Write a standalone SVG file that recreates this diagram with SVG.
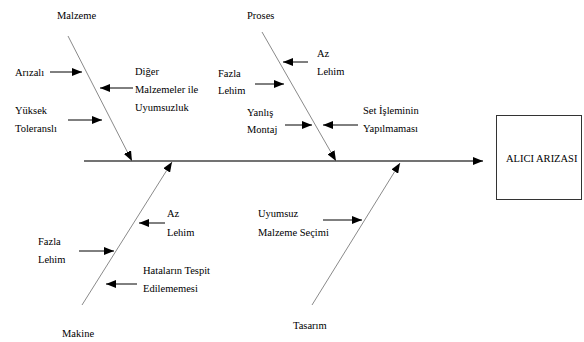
<svg xmlns="http://www.w3.org/2000/svg" width="584" height="342" viewBox="0 0 584 342">
<style>
text{font-family:"Liberation Serif",serif;font-size:10.5px;fill:#000}
.arr{stroke:#000;stroke-width:1;fill:none;marker-end:url(#ah)}
.bone{stroke:#8a8a8a;stroke-width:1;fill:none;marker-end:url(#ah)}
.spine{stroke:#444;stroke-width:1.5;fill:none;marker-end:url(#ah)}
</style>
<defs>
<marker id="ah" markerUnits="userSpaceOnUse" markerWidth="10" markerHeight="8" refX="10" refY="4" orient="auto">
<path d="M0,0 L10,4 L0,8 z" fill="#000"/>
</marker>
</defs>
<rect width="584" height="342" fill="#fff"/>
<g id="connectors">
<line class="spine" x1="84" y1="161" x2="483" y2="161"/>
<line class="bone" x1="68" y1="36" x2="132" y2="161"/>
<line class="bone" x1="262" y1="32" x2="336" y2="161"/>
<line class="bone" x1="82" y1="305" x2="172" y2="162"/>
<line class="bone" x1="312" y1="305" x2="400" y2="163"/>
<line class="arr" x1="50" y1="72" x2="82" y2="72"/>
<line class="arr" x1="133" y1="88" x2="100" y2="88"/>
<line class="arr" x1="68" y1="120" x2="102" y2="120"/>
<line class="arr" x1="308" y1="62" x2="283" y2="62"/>
<line class="arr" x1="255" y1="84" x2="284" y2="84"/>
<line class="arr" x1="285" y1="125" x2="312" y2="125"/>
<line class="arr" x1="358" y1="125" x2="323" y2="125"/>
<line class="arr" x1="165" y1="223" x2="139" y2="223"/>
<line class="arr" x1="79" y1="251" x2="114" y2="251"/>
<line class="arr" x1="137" y1="284" x2="106" y2="284"/>
<line class="arr" x1="323" y1="220" x2="362" y2="220"/>
</g>
<g id="result">
<rect x="496.5" y="115.5" width="85" height="84" fill="#fff" stroke="#333" stroke-width="1"/>
<text x="506" y="162">ALICI ARIZASI</text>
</g>
<g id="malzeme"><text x="57" y="19">Malzeme</text></g>
<g id="proses"><text x="247" y="19">Proses</text></g>
<g id="makine"><text x="62" y="337">Makine</text></g>
<g id="tasarim"><text x="293" y="329">Tasarım</text></g>
<g id="arizali"><text x="15" y="76">Arızalı</text></g>
<g id="diger"><text x="135" y="75">Diğer</text><text x="135" y="93">Malzemeler ile</text><text x="135" y="111">Uyumsuzluk</text></g>
<g id="yuksek"><text x="15" y="114">Yüksek</text><text x="15" y="132">Toleranslı</text></g>
<g id="az-proses"><text x="317" y="57">Az</text><text x="317" y="75">Lehim</text></g>
<g id="fazla-proses"><text x="218" y="77">Fazla</text><text x="218" y="94">Lehim</text></g>
<g id="yanlis"><text x="247" y="116">Yanlış</text><text x="247" y="133">Montaj</text></g>
<g id="set"><text x="363" y="114">Set İşleminin</text><text x="363" y="132">Yapılmaması</text></g>
<g id="az-makine"><text x="167" y="217">Az</text><text x="167" y="236">Lehim</text></g>
<g id="fazla-makine"><text x="38" y="245">Fazla</text><text x="38" y="263">Lehim</text></g>
<g id="hatalar"><text x="143" y="274">Hataların Tespit</text><text x="143" y="292">Edilememesi</text></g>
<g id="uyumsuz"><text x="258" y="217">Uyumsuz</text><text x="258" y="236">Malzeme Seçimi</text></g>
</svg>
